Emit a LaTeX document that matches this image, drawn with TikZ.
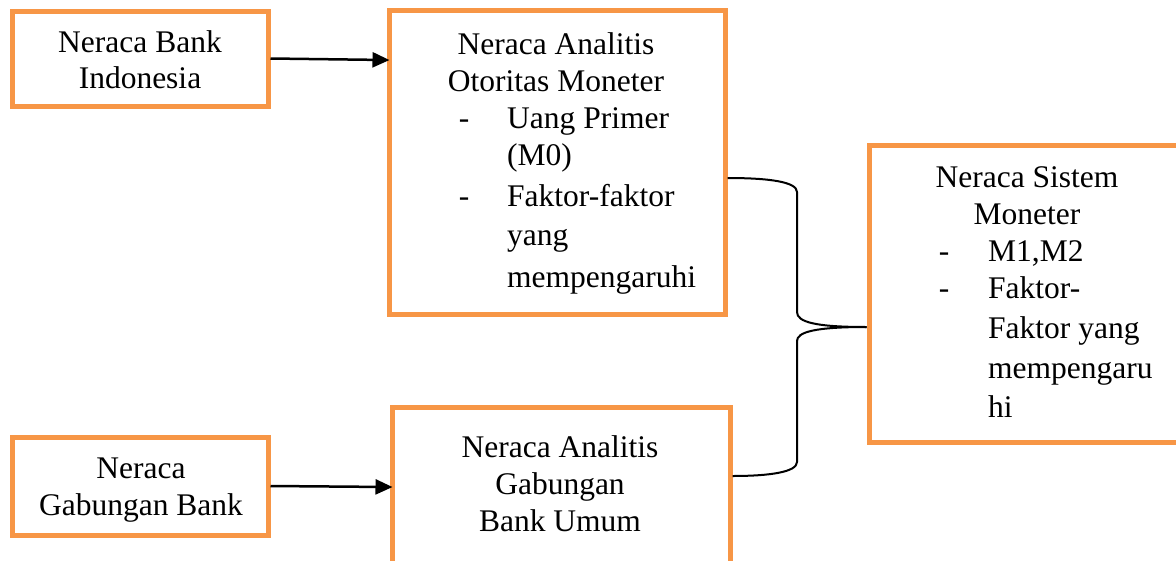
\documentclass[tikz,border=0pt]{standalone}
\usepackage{fontspec}
\setmainfont{Liberation Serif}
\usetikzlibrary{arrows.meta,calc}
\definecolor{boxorange}{HTML}{F79646}
\begin{document}
\begin{tikzpicture}[x=1pt,y=-1pt,
  box/.style={draw=boxorange,line width=5pt,rectangle,inner sep=0pt,fill=white},
  txt/.style={font=\fontsize{31.5}{36}\selectfont,inner sep=0pt,anchor=base},
  txtl/.style={txt,anchor=base west},
  arr/.style={line width=2.5pt,-{Triangle[length=17pt,width=15pt]},shorten >=-3pt},
  brace/.style={line width=2pt}]
\useasboundingbox (0,0) rectangle (1176,560);
\clip (0,0) rectangle (1176,560);
% boxes
\node[box,minimum width=256pt,minimum height=95pt] (A) at (140,58.5) {};
\node[box,minimum width=336pt,minimum height=304pt] (B) at (557,162) {};
\node[box,minimum width=256pt,minimum height=98pt] (C) at (140,486) {};
\node[box,minimum width=338pt,minimum height=158pt] (D) at (561,486) {};
\node[box,minimum width=310pt,minimum height=297pt] (E) at (1024,293.5) {};
% texts A
\node[txt] (a1) at (140,52) {Neraca Bank};
\node[txt] (a2) at (140,88) {Indonesia};
% texts B
\node[txt] (b1) at (556,54) {Neraca Analitis};
\node[txt] (b2) at (556,91) {Otoritas Moneter};
\node[txt] (bd1) at (464,128) {-};
\node[txtl] (b3) at (507,128) {Uang Primer};
\node[txtl] (b4) at (507,165) {(M0)};
\node[txt] (bd2) at (464,206) {-};
\node[txtl] (b5) at (507,206) {Faktor-faktor};
\node[txtl] (b6) at (507,245) {yang};
\node[txtl] (b7) at (507,287) {mempengaruhi};
% texts C
\node[txt] (c1) at (141,478) {Neraca};
\node[txt] (c2) at (141,515) {Gabungan Bank};
% texts D
\node[txt] (d1) at (560,457) {Neraca Analitis};
\node[txt] (d2) at (560,494) {Gabungan};
\node[txt] (d3) at (560,531) {Bank Umum};
% texts E
\node[txt] (e1) at (1027,187) {Neraca Sistem};
\node[txt] (e2) at (1027,224) {Moneter};
\node[txt] (ed1) at (944,261) {-};
\node[txtl] (e3) at (988,261) {M1,M2};
\node[txt] (ed2) at (944,298) {-};
\node[txtl] (e4) at (988,298) {Faktor-};
\node[txtl] (e5) at (988,338) {Faktor yang};
\node[txtl] (e6) at (988,378) {mempengaru};
\node[txtl] (e7) at (988,417) {hi};
% arrows
\draw[arr] (A.east) -- ([yshift=-1.5pt]A.east -| B.west);
\draw[arr] (C.east) -- ([yshift=-1pt]C.east -| D.west);
% brace
\coordinate (bt) at (B.east |- 0,178);
\coordinate (bb) at (D.east |- 0,476);
\coordinate (tip) at (E.west |- 0,327);
\draw[brace] (bt) .. controls (770,178) and (797,182) .. (797,192)
  -- (797,312) .. controls (797,322) and (815,327) .. (tip);
\draw[brace] (tip) .. controls (815,327) and (797,332) .. (797,341)
  -- (797,462) .. controls (797,472) and (770,476) .. (bb);
\end{tikzpicture}
\end{document}
